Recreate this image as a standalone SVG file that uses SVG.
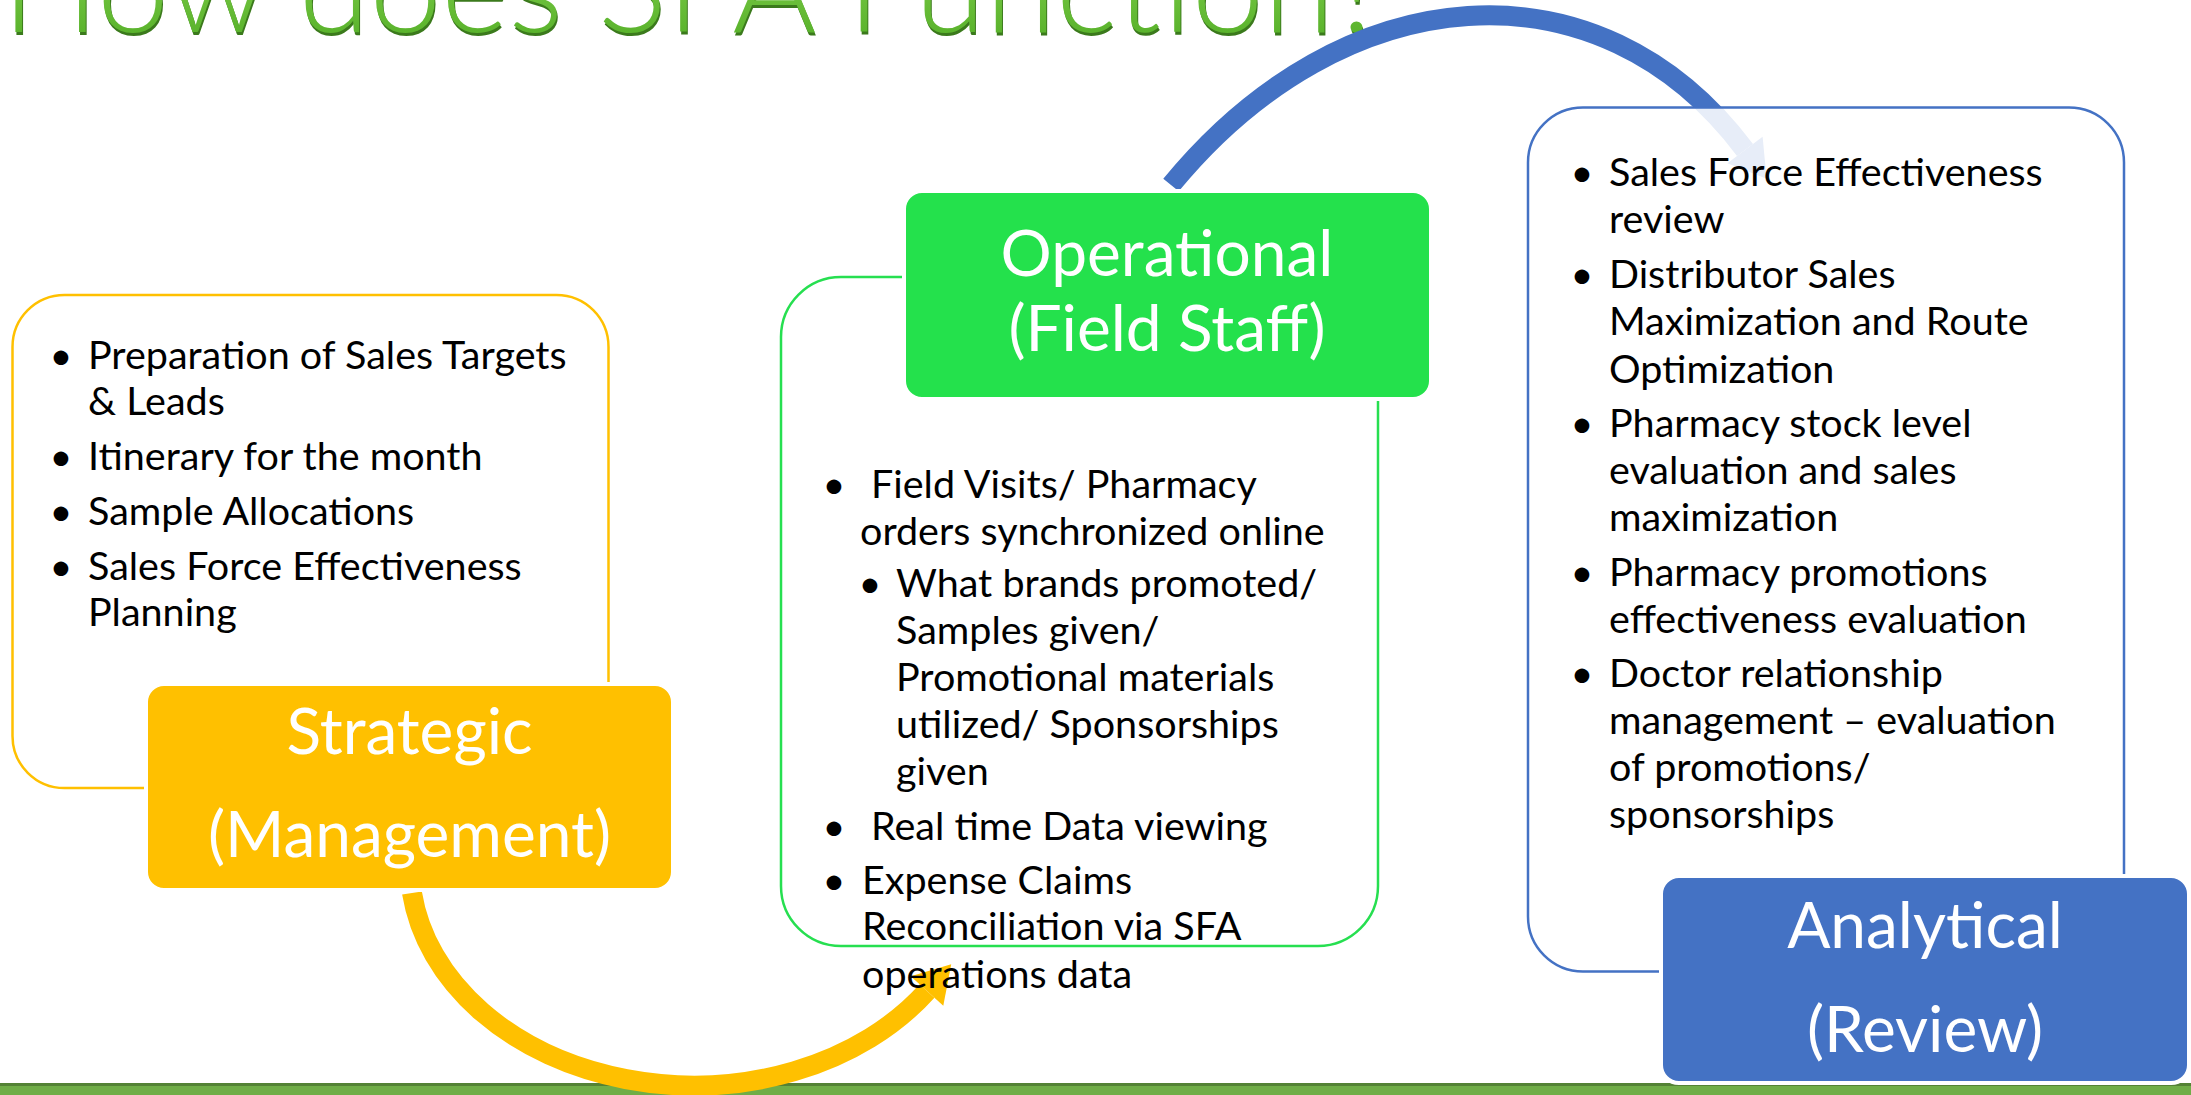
<svg xmlns="http://www.w3.org/2000/svg" width="2191" height="1095" viewBox="0 0 2191 1095">
<defs>
<style>
.t{font-family:Lato,"Noto Sans","Liberation Sans",sans-serif;font-size:39.5px;fill:#000}
.b{text-anchor:middle}
.h{font-family:Lato,"Noto Sans","Liberation Sans",sans-serif;font-size:64px;fill:#fff;text-anchor:middle}
.ol{fill:#fff;fill-opacity:.87;stroke-width:2.5}
.fl{stroke:#fff;stroke-width:4}
.arc{fill:none;stroke-width:20}
</style>
<linearGradient id="tg" gradientUnits="userSpaceOnUse" x1="0" y1="-40" x2="0" y2="34">
<stop offset="0" stop-color="#7DCC4A"/>
<stop offset="1" stop-color="#5AB32C"/>
</linearGradient>
</defs>
<rect width="2191" height="1095" fill="#fff"/>
<g id="bottom-bar">
<rect x="0" y="1083" width="2191" height="12" fill="#70AD47"/>
<rect x="0" y="1083" width="2191" height="3" fill="#548235"/>
</g>
<g id="title" font-family="Lato,'Noto Sans','Liberation Sans',sans-serif" font-size="124" font-weight="300">
<text x="3" y="34.5" textLength="1385" lengthAdjust="spacingAndGlyphs" fill="#3B7A1C">How does SFA Function?</text>
<text x="2" y="32" textLength="1385" lengthAdjust="spacingAndGlyphs" fill="url(#tg)">How does SFA Function?</text>
</g>
<g id="connectors">
<path class="arc" stroke="#FFC000" d="M412 893 A284 220 0 0 0 927 991"/>
<polygon fill="#FFC000" points="951.2,964.3 943.3,1005.8 910.7,976.2"/>
<path class="arc" stroke="#4472C4" d="M1171 185 C1343.3 -24.8 1599.3 -44.2 1745 150"/>
<polygon fill="#4472C4" points="1766.6,178.8 1762.6,136.8 1727.4,163.2"/>
</g>
<g id="strategic">
<rect class="ol" stroke="#FFC000" x="12.5" y="295" width="596" height="493" rx="52"/>
<rect class="fl" fill="#FFC000" x="146" y="684" width="527" height="206" rx="18"/>
<text class="h" x="409.5" y="754">Strategic</text>
<text class="h" x="409.5" y="857">(Management)</text>
<text class="t b" x="61" y="369">•</text>
<text class="t" x="88" y="369">Preparation of Sales Targets</text>
<text class="t" x="88" y="415">&amp; Leads</text>
<text class="t b" x="61" y="470">•</text>
<text class="t" x="88" y="470">Itinerary for the month</text>
<text class="t b" x="61" y="525">•</text>
<text class="t" x="88" y="525">Sample Allocations</text>
<text class="t b" x="61" y="580">•</text>
<text class="t" x="88" y="580">Sales Force Effectiveness</text>
<text class="t" x="88" y="626">Planning</text>
</g>
<g id="operational">
<rect class="ol" stroke="#26DF50" x="781" y="277" width="597" height="669" rx="60"/>
<rect class="fl" fill="#24E14C" x="904" y="191" width="527" height="208" rx="18"/>
<text class="h" x="1167" y="276">Operational</text>
<text class="h" x="1167" y="351">(Field Staff)</text>
<text class="t b" x="834" y="498">•</text>
<text class="t" x="871" y="498">Field Visits/ Pharmacy</text>
<text class="t" x="860" y="545">orders synchronized online</text>
<text class="t b" x="870" y="597">•</text>
<text class="t" x="896" y="597">What brands promoted/</text>
<text class="t" x="896" y="644">Samples given/</text>
<text class="t" x="896" y="691">Promotional materials</text>
<text class="t" x="896" y="738">utilized/ Sponsorships</text>
<text class="t" x="896" y="785">given</text>
<text class="t b" x="834" y="840">•</text>
<text class="t" x="871" y="840">Real time Data viewing</text>
<text class="t b" x="834" y="894">•</text>
<text class="t" x="862" y="894">Expense Claims</text>
<text class="t" x="862" y="940">Reconciliation via SFA</text>
<text class="t" x="862" y="988">operations data</text>
</g>
<g id="analytical">
<rect class="ol" stroke="#4472C4" x="1528" y="107.5" width="596" height="864" rx="55"/>
<rect class="fl" fill="#4472C4" x="1661" y="876" width="528" height="207" rx="18"/>
<text class="h" x="1925" y="948">Analytical</text>
<text class="h" x="1925" y="1052">(Review)</text>
<text class="t b" x="1582" y="186">•</text>
<text class="t" x="1609" y="186">Sales Force Effectiveness</text>
<text class="t" x="1609" y="233">review</text>
<text class="t b" x="1582" y="288">•</text>
<text class="t" x="1609" y="288">Distributor Sales</text>
<text class="t" x="1609" y="335">Maximization and Route</text>
<text class="t" x="1609" y="383">Optimization</text>
<text class="t b" x="1582" y="437">•</text>
<text class="t" x="1609" y="437">Pharmacy stock level</text>
<text class="t" x="1609" y="484">evaluation and sales</text>
<text class="t" x="1609" y="531">maximization</text>
<text class="t b" x="1582" y="586">•</text>
<text class="t" x="1609" y="586">Pharmacy promotions</text>
<text class="t" x="1609" y="633">effectiveness evaluation</text>
<text class="t b" x="1582" y="687">•</text>
<text class="t" x="1609" y="687">Doctor relationship</text>
<text class="t" x="1609" y="734">management – evaluation</text>
<text class="t" x="1609" y="781">of promotions/</text>
<text class="t" x="1609" y="828">sponsorships</text>
</g>
</svg>
